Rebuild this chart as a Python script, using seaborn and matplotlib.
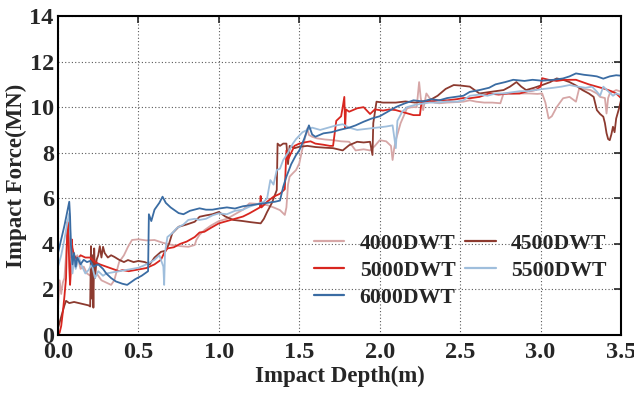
import numpy as np
import pandas as pd
import matplotlib
matplotlib.use("Agg")
import matplotlib.pyplot as plt
import seaborn as sns

series_names = ["4000DWT", "4500DWT", "5000DWT", "5500DWT", "6000DWT"]
colors = ["#d6a6a6", "#8c3a2f", "#d8261f", "#9fbedc", "#3a6ca3"]

x_4000 = [0.0,0.01,0.02,0.03,0.04,0.05,0.06,0.07,0.08,0.09,0.10,0.12,0.14,0.16,0.18,0.21,0.24,0.27,0.30,0.33,0.35,0.38,0.41,0.435,0.46,0.50,0.55,0.60,0.65,0.71,0.76,0.81,0.85,0.86,0.88,0.91,0.95,1.0,1.05,1.1,1.15,1.19,1.25,1.30,1.34,1.38,1.41,1.42,1.43,1.44,1.46,1.48,1.50,1.52,1.55,1.56,1.58,1.61,1.66,1.71,1.76,1.81,1.85,1.90,1.94,1.97,2.0,2.04,2.07,2.08,2.09,2.10,2.13,2.17,2.20,2.23,2.245,2.255,2.27,2.29,2.31,2.34,2.37,2.42,2.47,2.52,2.56,2.6,2.65,2.70,2.75,2.77,2.82,2.87,2.93,2.98,3.01,3.03,3.05,3.07,3.10,3.14,3.18,3.22,3.24,3.28,3.31,3.35,3.37,3.40,3.41,3.42,3.43,3.47,3.5]
y_4000 = [1.2,2.4,1.8,2.3,2.5,3.5,4.6,4.2,3.4,3.8,3.2,3.5,2.9,3.0,2.7,2.56,2.7,2.4,2.3,2.2,2.4,3.2,3.5,3.87,4.17,4.2,4.15,4.17,4.05,3.95,3.9,3.87,3.95,4.17,4.4,4.6,4.8,5.0,5.1,5.3,5.5,5.78,5.75,5.7,5.6,5.48,5.27,5.6,6.6,6.95,7.1,7.24,7.53,8.2,9.07,8.78,8.7,8.63,8.58,8.55,8.5,8.48,8.1,8.15,8.1,8.3,8.55,8.5,8.3,7.68,8.2,8.55,9.3,9.95,10.0,10.0,11.1,10.4,9.87,10.6,10.4,10.2,10.17,10.2,10.22,10.24,10.3,10.24,10.2,10.2,10.17,10.6,10.58,10.6,10.6,10.58,10.6,10.2,9.5,9.6,10.0,10.39,10.45,10.24,10.82,10.78,10.75,10.6,10.45,10.4,9.72,10.4,10.6,10.75,10.68]

x_4500 = [0.0,0.02,0.04,0.05,0.07,0.10,0.13,0.16,0.19,0.20,0.205,0.21,0.215,0.22,0.225,0.23,0.24,0.25,0.26,0.27,0.28,0.29,0.31,0.33,0.35,0.38,0.41,0.435,0.47,0.50,0.54,0.57,0.60,0.64,0.67,0.69,0.71,0.75,0.80,0.85,0.88,0.92,0.96,1.0,1.04,1.09,1.15,1.20,1.26,1.28,1.30,1.33,1.36,1.365,1.38,1.40,1.42,1.43,1.44,1.47,1.50,1.55,1.60,1.66,1.71,1.77,1.81,1.86,1.90,1.94,1.955,1.96,1.98,2.02,2.1,2.16,2.22,2.31,2.36,2.41,2.46,2.50,2.56,2.60,2.62,2.67,2.72,2.77,2.81,2.85,2.88,2.91,2.96,3.01,3.06,3.10,3.14,3.18,3.22,3.26,3.30,3.33,3.35,3.37,3.39,3.40,3.41,3.42,3.43,3.44,3.45,3.46,3.47,3.49,3.5]
y_4500 = [0.3,0.8,1.3,1.5,1.4,1.45,1.4,1.35,1.3,1.25,3.9,1.6,3.5,1.2,3.8,2.5,3.3,3.5,3.9,3.4,3.87,3.6,3.4,3.5,3.43,3.3,3.2,3.29,3.2,3.25,3.2,3.1,3.4,3.65,3.7,4.0,4.46,4.75,4.85,4.97,5.19,5.25,5.3,5.4,5.2,5.05,5.0,4.95,4.9,5.1,5.4,5.8,6.36,8.4,8.3,8.4,8.4,7.5,8.3,8.2,8.26,8.3,8.25,8.22,8.2,8.1,8.33,8.48,8.45,8.48,7.9,9.3,10.24,10.2,10.2,10.25,10.2,10.3,10.5,10.8,10.97,10.95,10.9,10.7,10.6,10.65,10.7,10.75,10.9,11.1,10.9,10.75,10.85,10.97,11.1,11.26,11.2,11.1,10.95,10.75,10.6,10.45,9.87,9.7,9.58,9.3,8.86,8.6,8.55,8.8,9.14,8.9,9.5,10.0,10.3]

x_5000 = [0.0,0.01,0.02,0.03,0.04,0.05,0.055,0.06,0.065,0.07,0.075,0.08,0.085,0.09,0.10,0.12,0.14,0.17,0.20,0.23,0.26,0.30,0.34,0.38,0.40,0.44,0.48,0.52,0.55,0.60,0.64,0.66,0.68,0.72,0.76,0.80,0.85,0.88,0.91,0.95,1.0,1.05,1.1,1.15,1.19,1.23,1.255,1.26,1.265,1.30,1.34,1.38,1.41,1.42,1.43,1.45,1.47,1.50,1.53,1.57,1.60,1.65,1.69,1.71,1.73,1.76,1.77,1.78,1.785,1.79,1.81,1.86,1.90,1.94,1.97,2.02,2.06,2.1,2.16,2.21,2.25,2.26,2.32,2.37,2.42,2.48,2.52,2.56,2.62,2.68,2.74,2.80,2.87,2.92,2.97,3.0,3.01,3.05,3.10,3.14,3.18,3.22,3.26,3.30,3.35,3.40,3.44,3.47,3.5]
y_5000 = [0.0,0.1,0.4,1.0,1.7,2.5,4.0,4.97,4.3,3.0,2.2,2.8,4.2,3.8,3.5,3.3,3.5,3.4,3.4,3.2,3.1,3.0,2.9,2.8,2.85,2.8,2.85,2.9,2.94,3.1,3.3,3.6,3.8,3.85,4.0,4.1,4.3,4.5,4.53,4.7,4.9,5.0,5.1,5.2,5.34,5.5,5.6,6.1,5.6,5.85,6.07,6.2,6.4,8.1,7.7,8.0,8.3,8.4,8.45,8.5,8.4,8.35,8.3,8.3,9.4,9.6,10.0,10.45,9.1,9.9,9.8,9.95,10.0,9.7,9.9,9.85,9.9,9.87,9.75,9.65,9.65,10.24,10.25,10.3,10.3,10.35,10.4,10.39,10.45,10.6,10.55,10.6,10.6,10.7,10.75,10.9,11.27,11.2,11.15,11.19,11.2,11.2,11.1,11.0,10.9,10.8,10.7,10.6,10.4]

x_5500 = [0.0,0.02,0.04,0.06,0.07,0.08,0.09,0.10,0.11,0.13,0.15,0.17,0.19,0.21,0.23,0.25,0.28,0.30,0.34,0.38,0.42,0.46,0.50,0.55,0.60,0.63,0.655,0.66,0.665,0.68,0.71,0.74,0.78,0.81,0.85,0.88,0.92,0.96,1.0,1.05,1.1,1.15,1.19,1.24,1.28,1.30,1.32,1.34,1.36,1.38,1.40,1.43,1.46,1.48,1.52,1.55,1.58,1.63,1.68,1.73,1.77,1.81,1.86,1.92,1.98,2.04,2.08,2.10,2.11,2.14,2.17,2.22,2.26,2.31,2.36,2.42,2.48,2.52,2.56,2.62,2.67,2.72,2.77,2.82,2.87,2.92,2.97,3.02,3.08,3.13,3.18,3.23,3.28,3.32,3.35,3.37,3.39,3.42,3.45,3.47,3.5]
y_5500 = [3.0,3.5,4.2,5.0,5.35,4.0,2.7,3.3,2.9,3.4,3.0,2.7,2.85,3.1,2.5,2.8,2.6,2.7,2.75,2.8,2.85,2.9,2.95,3.1,3.3,3.5,3.0,2.2,3.6,4.3,4.47,4.7,4.85,5.05,5.1,5.05,5.1,5.25,5.34,5.3,5.45,5.5,5.63,5.75,5.85,6.0,6.8,6.6,7.24,7.3,7.68,8.0,8.4,8.6,8.9,9.0,9.1,9.0,9.1,9.2,9.25,9.1,9.0,9.05,9.1,9.15,9.2,8.2,9.4,9.8,10.0,10.1,10.15,10.2,10.2,10.25,10.24,10.3,10.5,10.55,10.5,10.6,10.6,10.65,10.7,10.7,10.75,10.8,10.85,10.9,10.97,10.9,10.85,10.9,10.68,10.5,10.9,10.7,10.5,10.6,10.53]

x_6000 = [0.0,0.02,0.04,0.06,0.07,0.075,0.08,0.09,0.10,0.11,0.12,0.14,0.16,0.18,0.20,0.22,0.25,0.28,0.30,0.33,0.36,0.40,0.43,0.45,0.48,0.52,0.56,0.565,0.58,0.60,0.63,0.65,0.67,0.70,0.75,0.78,0.82,0.88,0.92,0.96,1.0,1.05,1.1,1.15,1.2,1.25,1.3,1.35,1.38,1.40,1.42,1.45,1.48,1.50,1.53,1.56,1.58,1.60,1.65,1.70,1.75,1.81,1.85,1.90,1.95,2.0,2.05,2.1,2.15,2.21,2.27,2.32,2.37,2.42,2.47,2.52,2.56,2.62,2.68,2.72,2.78,2.83,2.9,2.95,3.01,3.08,3.14,3.18,3.22,3.27,3.32,3.35,3.39,3.43,3.47,3.5]
y_6000 = [3.6,4.2,4.8,5.5,5.85,5.2,4.0,3.1,3.6,3.0,3.4,3.1,3.3,3.2,3.25,3.0,3.1,2.9,2.7,2.5,2.35,2.25,2.2,2.3,2.45,2.6,2.8,5.3,5.0,5.5,5.8,6.07,5.8,5.6,5.35,5.3,5.45,5.56,5.5,5.5,5.55,5.6,5.55,5.65,5.7,5.75,5.8,5.85,5.9,6.5,6.95,7.5,7.9,8.1,8.6,9.2,8.8,8.7,8.85,8.9,9.0,9.1,9.2,9.36,9.5,9.6,9.8,10.0,10.15,10.3,10.25,10.35,10.3,10.4,10.45,10.5,10.67,10.75,10.85,11.0,11.1,11.2,11.15,11.2,11.16,11.2,11.26,11.35,11.48,11.42,11.38,11.35,11.25,11.35,11.4,11.38]

xs = [x_4000, x_4500, x_5000, x_5500, x_6000]
ys = [y_4000, y_4500, y_5000, y_5500, y_6000]

frames = []
for name, xv, yv in zip(series_names, xs, ys):
    frames.append(pd.DataFrame({"depth": xv, "force": yv, "ship": name}))
df = pd.concat(frames, ignore_index=True)

sns.set_style("white")
plt.rcParams["font.family"] = ["Liberation Serif", "DejaVu Serif"]
plt.rcParams["font.weight"] = "bold"

fig = plt.figure(figsize=(6.34, 3.94), dpi=100)
ax = fig.add_axes([58/634, 1-335/394, (621-58)/634, (335-16)/394])

sns.lineplot(data=df, x="depth", y="force", hue="ship", hue_order=series_names,
             palette=colors, estimator=None, sort=False,
             linewidth=1.3, ax=ax, legend=False)

ax.set_xlim(0, 3.5)
ax.set_ylim(0, 14)
ax.set_xticks([0.0, 0.5, 1.0, 1.5, 2.0, 2.5, 3.0, 3.5])
ax.set_xticklabels(["0.0", "0.5", "1.0", "1.5", "2.0", "2.5", "3.0", "3.5"])
ax.set_yticks([0, 2, 4, 6, 8, 10, 12, 14])
ax.grid(True, linestyle=(0, (1, 2)), color="0.35", linewidth=0.8)
ax.tick_params(direction="in", length=5, width=1.2, top=True, right=True,
               labelsize=17.5)
ax.tick_params(axis="y", pad=3)
ax.tick_params(axis="x", pad=5)
for lab in ax.get_xticklabels() + ax.get_yticklabels():
    lab.set_fontweight("bold")
for sp in ax.spines.values():
    sp.set_linewidth(1.5)
    sp.set_color("black")

ax.set_xlabel("Impact Depth(m)", fontsize=16.5, fontweight="bold", labelpad=2)
ax.set_ylabel("Impact Force(MN)", fontsize=16.5, fontweight="bold", labelpad=2)

handle_map = {n: plt.Line2D([], [], color=c, lw=1.6) for n, c in zip(series_names, colors)}
leg_order = ["4000DWT", "5000DWT", "6000DWT", "4500DWT", "5500DWT"]
leg = ax.legend([handle_map[n] for n in leg_order], leg_order, ncol=2, frameon=False,
                loc="upper left", bbox_to_anchor=(0.4545, 0.318), fontsize=15.7,
                handlelength=1.4, columnspacing=0.45, handletextpad=0.7,
                labelspacing=0.31, borderpad=0, borderaxespad=0)
for t in leg.get_texts():
    t.set_fontweight("bold")

fig.savefig("out.png", dpi=100)
